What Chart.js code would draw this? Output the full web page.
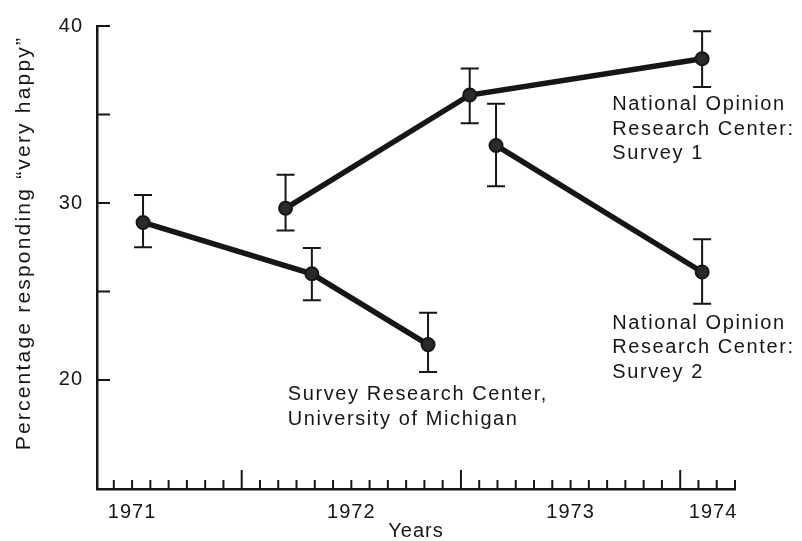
<!DOCTYPE html>
<html>
<head>
<meta charset="utf-8">
<script src="https://cdn.jsdelivr.net/npm/chart.js@4.4.0/dist/chart.umd.min.js"></script>
<style>
  html, body { margin: 0; padding: 0; background: #fff; }
  #wrap { width: 802px; height: 541px; }
</style>
</head>
<body>
<div id="wrap"><canvas id="chart" width="802" height="541"></canvas></div>
<script>
// values: x in decimal years, y in percent "very happy"
const srcX = [1971.55, 1972.32, 1972.85];
const srcY = [28.9, 26.0, 22.0];
const srcLo = [27.5, 24.5, 20.45];
const srcHi = [30.45, 27.45, 23.8];

const norc1X = [1972.2, 1973.04, 1974.1];
const norc1Y = [29.7, 36.1, 38.15];
const norc1Lo = [28.45, 34.5, 36.55];
const norc1Hi = [31.6, 37.6, 39.7];

const norc2X = [1973.16, 1974.1];
const norc2Y = [33.25, 26.1];
const norc2Lo = [30.95, 24.3];
const norc2Hi = [35.6, 27.95];

const yTicks = [20, 25, 30, 35, 40];
const yTickLabels = ['20', '', '30', '', '40'];
const xLabelPos = [1971.5, 1972.5, 1973.5, 1974.15];
const xLabels = ['1971', '1972', '1973', '1974'];

const ink = '#161616';
const FONT = '"Liberation Sans", Arial, Helvetica, sans-serif';

// text labels beside the lines (anchored in data units)
const notes = [
  { x: 1973.69, y: 35.25, lines: ['National Opinion', 'Research Center:', 'Survey 1'] },
  { x: 1973.69, y: 22.9, lines: ['National Opinion', 'Research Center:', 'Survey 2'] },
  { x: 1972.21, y: 18.85, lines: ['Survey Research Center,', 'University of Michigan'] }
];

function series(xs, ys) {
  return xs.map((x, i) => ({ x, y: ys[i] }));
}

function lineSet(label, xs, ys, lo, hi) {
  return {
    label,
    data: series(xs, ys),
    lo, hi,
    borderColor: ink,
    borderWidth: 5.5,
    pointRadius: 6.5,
    pointBackgroundColor: '#2a2a2a',
    pointBorderColor: ink,
    pointBorderWidth: 2,
    tension: 0
  };
}

const errorBars = {
  id: 'errorBars',
  beforeDatasetsDraw(chart) {
    const { ctx, scales: { x, y } } = chart;
    ctx.save();
    ctx.strokeStyle = ink;
    ctx.lineWidth = 2;
    chart.data.datasets.forEach(ds => {
      ds.data.forEach((p, i) => {
        const px = x.getPixelForValue(p.x);
        const top = y.getPixelForValue(ds.hi[i]);
        const bot = y.getPixelForValue(ds.lo[i]);
        ctx.beginPath();
        ctx.moveTo(px, top); ctx.lineTo(px, bot);
        ctx.moveTo(px - 9, top); ctx.lineTo(px + 9, top);
        ctx.moveTo(px - 9, bot); ctx.lineTo(px + 9, bot);
        ctx.stroke();
      });
    });
    ctx.restore();
  }
};

// tick marks pointing into the plot, plus the free text
const decorations = {
  id: 'decorations',
  beforeDraw(chart) {
    chart.ctx.letterSpacing = '1px';
  },
  afterDraw(chart) {
    const { ctx, chartArea: a, scales: { x, y } } = chart;
    ctx.save();
    ctx.strokeStyle = ink;
    ctx.lineWidth = 2;
    ctx.beginPath();
    for (let m = -7; m <= 27; m++) {
      const px = x.getPixelForValue(1972 + m / 12);
      const len = m % 12 === 0 ? 19 : 9;
      ctx.moveTo(px, a.bottom);
      ctx.lineTo(px, a.bottom - len);
    }
    yTicks.forEach(t => {
      const py = y.getPixelForValue(t);
      ctx.moveTo(a.left, py);
      ctx.lineTo(a.left + 13, py);
    });
    ctx.stroke();

    ctx.fillStyle = ink;
    ctx.font = '20px ' + FONT;
    ctx.letterSpacing = '1.6px';
    ctx.textAlign = 'left';
    ctx.textBaseline = 'alphabetic';
    notes.forEach(n => {
      const px = x.getPixelForValue(n.x);
      const py = y.getPixelForValue(n.y);
      n.lines.forEach((t, i) => ctx.fillText(t, px, py + i * 24.5));
    });

    // y axis title
    ctx.font = '21px ' + FONT;
    ctx.letterSpacing = '2.2px';
    ctx.textAlign = 'center';
    ctx.textBaseline = 'middle';
    ctx.translate(24, 243);
    ctx.rotate(-Math.PI / 2);
    ctx.fillText('Percentage responding \u201cvery happy\u201d', 0, 0);
    ctx.restore();
  }
};

new Chart(document.getElementById('chart'), {
  type: 'line',
  data: {
    datasets: [
      lineSet('Survey Research Center, University of Michigan', srcX, srcY, srcLo, srcHi),
      lineSet('National Opinion Research Center: Survey 1', norc1X, norc1Y, norc1Lo, norc1Hi),
      lineSet('National Opinion Research Center: Survey 2', norc2X, norc2Y, norc2Lo, norc2Hi)
    ]
  },
  options: {
    responsive: false,
    animation: false,
    devicePixelRatio: 1,
    layout: { padding: { top: 22, right: 67, bottom: 0, left: 0 } },
    plugins: { legend: { display: false }, tooltip: { enabled: false } },
    scales: {
      x: {
        type: 'linear',
        min: 1971.34,
        max: 1974.25,
        grid: { display: false, drawTicks: false },
        border: { display: true, color: ink, width: 2.5 },
        afterBuildTicks: s => { s.ticks = xLabelPos.map(v => ({ value: v })); },
        afterFit: s => { s.height = 52; },
        ticks: {
          autoSkip: false,
          maxRotation: 0,
          padding: 11,
          color: ink,
          font: { family: FONT, size: 20 },
          callback: (v, i) => xLabels[i]
        },
        title: {
          display: true,
          text: 'Years',
          color: ink,
          font: { family: FONT, size: 20, lineHeight: 1 },
          padding: { top: 0, bottom: 0 }
        }
      },
      y: {
        min: 13.84,
        max: 40,
        grid: { display: false, drawTicks: false },
        border: { display: true, color: ink, width: 2.5 },
        afterBuildTicks: s => { s.ticks = yTicks.map(v => ({ value: v })); },
        afterFit: s => { s.width = 97; },
        ticks: {
          padding: 14,
          color: ink,
          font: { family: FONT, size: 20 },
          callback: (v, i) => yTickLabels[i]
        }
      }
    }
  },
  plugins: [errorBars, decorations]
});
</script>
</body>
</html>
